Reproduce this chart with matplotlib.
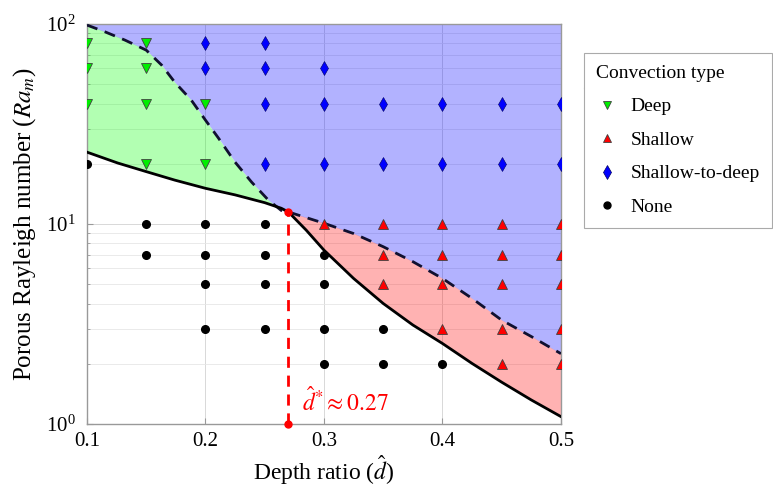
import matplotlib
matplotlib.use("Agg")
import matplotlib.pyplot as plt
import numpy as np
from matplotlib.lines import Line2D
from matplotlib.ticker import LogLocator, LogFormatterMathtext, NullFormatter

plt.rcParams['font.family'] = ['Liberation Serif', 'DejaVu Serif']
plt.rcParams['mathtext.fontset'] = 'stix'

# ---- data ----
deep_d = [0.1, 0.1, 0.1, 0.15, 0.15, 0.15, 0.15, 0.2, 0.2]
deep_ra = [80, 60, 40, 80, 60, 40, 20, 40, 20]

s2d_d = [0.2, 0.25, 0.2, 0.25, 0.3,
         0.25, 0.3, 0.35, 0.4, 0.45, 0.5,
         0.25, 0.3, 0.35, 0.4, 0.45, 0.5]
s2d_ra = [80, 80, 60, 60, 60,
          40, 40, 40, 40, 40, 40,
          20, 20, 20, 20, 20, 20]

shallow_d = [0.3, 0.35, 0.4, 0.45, 0.5,
             0.35, 0.4, 0.45, 0.5,
             0.35, 0.4, 0.45, 0.5,
             0.4, 0.45, 0.5,
             0.45, 0.5]
shallow_ra = [10, 10, 10, 10, 10,
              7, 7, 7, 7,
              5, 5, 5, 5,
              3, 3, 3,
              2, 2]

none_d = [0.1,
          0.15, 0.2, 0.25,
          0.15, 0.2, 0.25, 0.3,
          0.2, 0.25, 0.3,
          0.2, 0.25, 0.3, 0.35,
          0.3, 0.35, 0.4]
none_ra = [20,
           10, 10, 10,
           7, 7, 7, 7,
           5, 5, 5,
           3, 3, 3, 3,
           2, 2, 2]

# boundaries
dash_left_d = [0.1, 0.115, 0.132, 0.15, 0.163, 0.174, 0.188, 0.2, 0.211, 0.225, 0.239, 0.253, 0.264, 0.27]
dash_left_ra = [98.9, 91.6, 83.2, 74.1, 62.4, 51.3, 41.7, 33.1, 26.9, 20.4, 16.2, 13.2, 11.7, 11.5]

solid_left_d = [0.1, 0.126, 0.15, 0.174, 0.2, 0.225, 0.25, 0.264, 0.27]
solid_left_ra = [22.9, 20.2, 18.3, 16.6, 15.1, 14.0, 12.8, 12.0, 11.5]

dash_right_d = [0.27, 0.3, 0.325, 0.35, 0.375, 0.4, 0.425, 0.45, 0.475, 0.5]
dash_right_ra = [11.5, 10.1, 8.97, 7.71, 6.49, 5.35, 4.25, 3.31, 2.74, 2.25]

solid_right_d = [0.27, 0.285, 0.3, 0.325, 0.35, 0.375, 0.4, 0.425, 0.45, 0.475, 0.5]
solid_right_ra = [11.5, 9.33, 7.41, 5.35, 4.01, 3.13, 2.53, 2.01, 1.62, 1.32, 1.09]

d_crit = 0.27
ra_crit = 11.5

fig = plt.figure(figsize=(7.73, 4.92), dpi=100)
ax = fig.add_axes([0.1125, 0.138, 0.6132, 0.813])
ax.set_axisbelow(True)

ax.set_yscale('log')
ax.set_xlim(0.1, 0.5)
ax.set_ylim(1, 100)

# fills
dash_all_d = dash_left_d + dash_right_d[1:]
dash_all_ra = dash_left_ra + dash_right_ra[1:]
ax.fill_between(dash_all_d, dash_all_ra, 100, color='blue', alpha=0.3, lw=0)
ax.fill(dash_left_d + solid_left_d[::-1], dash_left_ra + solid_left_ra[::-1],
        color='lime', alpha=0.3, lw=0)
ax.fill(dash_right_d + solid_right_d[::-1], dash_right_ra + solid_right_ra[::-1],
        color='red', alpha=0.3, lw=0)

# boundary lines
ax.plot(dash_all_d, dash_all_ra, color='#101030', ls=(0, (4, 2.8)), lw=2, zorder=3)
ax.plot(solid_left_d + solid_right_d[1:], solid_left_ra + solid_right_ra[1:],
        color='black', lw=2, zorder=3)

# critical depth marker
ax.plot([d_crit, d_crit], [1, ra_crit], color='red', ls=(0, (4, 2.8)), lw=2,
        marker='o', ms=5, clip_on=False, zorder=4)
ax.text(0.2815, 1.29, r'$\hat{d}^{*}\approx 0.27$', color='red', fontsize=17,
        ha='left', va='center')

# points
ax.plot(deep_d, deep_ra, ls='none', marker='v', ms=7, mfc='#00ee00', mec='#404040', mew=0.6, zorder=5)
ax.plot(shallow_d, shallow_ra, ls='none', marker='^', ms=7, mfc='#ff0000', mec='#404040', mew=0.6, zorder=5)
ax.plot(s2d_d, s2d_ra, ls='none', marker='d', ms=7, mfc='#0000ff', mec='#000060', mew=0.4, zorder=5)
ax.plot(none_d, none_ra, ls='none', marker='o', ms=5.5, mfc='black', mec='black', zorder=5)

# axes styling
ax.set_xticks([0.1, 0.2, 0.3, 0.4, 0.5])
ax.set_xticklabels(['0.1', '0.2', '0.3', '0.4', '0.5'])
ax.yaxis.set_major_locator(LogLocator(base=10, numticks=5))
ax.yaxis.set_major_formatter(LogFormatterMathtext())
ax.yaxis.set_minor_locator(LogLocator(base=10, subs=np.arange(2, 10), numticks=20))
ax.yaxis.set_minor_formatter(NullFormatter())
ax.tick_params(axis='both', which='both', direction='in', color='#999999', labelsize=15)
ax.tick_params(axis='x', pad=6)
ax.tick_params(axis='y', pad=8)
ax.tick_params(which='major', length=4)
ax.tick_params(which='minor', length=2.5)
ax.grid(True, which='major', color='#d8d8d8', lw=0.7)
ax.grid(True, which='minor', axis='y', color='#e6e6e6', lw=0.6)
for s in ax.spines.values():
    s.set_color('#999999')
    s.set_linewidth(1)

ax.set_xlabel(r'Depth ratio ($\hat{d}$)', fontsize=17, labelpad=1)
ax.set_ylabel(r'Porous Rayleigh number ($Ra_m$)', fontsize=18, labelpad=6)

# legend
handles = [
    Line2D([], [], ls='none', marker='v', ms=6, mfc='#00ee00', mec='#404040', mew=0.6),
    Line2D([], [], ls='none', marker='^', ms=6, mfc='#ff0000', mec='#404040', mew=0.6),
    Line2D([], [], ls='none', marker='d', ms=7, mfc='#0000ff', mec='#000060', mew=0.5),
    Line2D([], [], ls='none', marker='o', ms=5, mfc='black', mec='black'),
]
labels = ['Deep', 'Shallow', 'Shallow-to-deep', 'None']
leg = fig.legend(handles, labels, title='Convection type', loc='upper left',
                 bbox_to_anchor=(0.7555, 0.892), fontsize=14, title_fontsize=14,
                 frameon=True, fancybox=False, edgecolor='#aaaaaa', framealpha=1,
                 borderpad=0.6, labelspacing=0.82, handletextpad=0.6, handlelength=1.2,
                 borderaxespad=0)
leg.get_frame().set_linewidth(0.8)
leg._legend_box.align = 'left'

fig.canvas.draw()
bb = leg.get_window_extent().transformed(fig.transFigure.inverted())
tb = leg.get_title().get_window_extent().transformed(fig.transFigure.inverted())
ysep = tb.y0 - 0.012
fig.add_artist(Line2D([bb.x0, bb.x1], [ysep, ysep], transform=fig.transFigure,
                      color='#aaaaaa', lw=0.8))

fig.savefig('out.png', dpi=100)
